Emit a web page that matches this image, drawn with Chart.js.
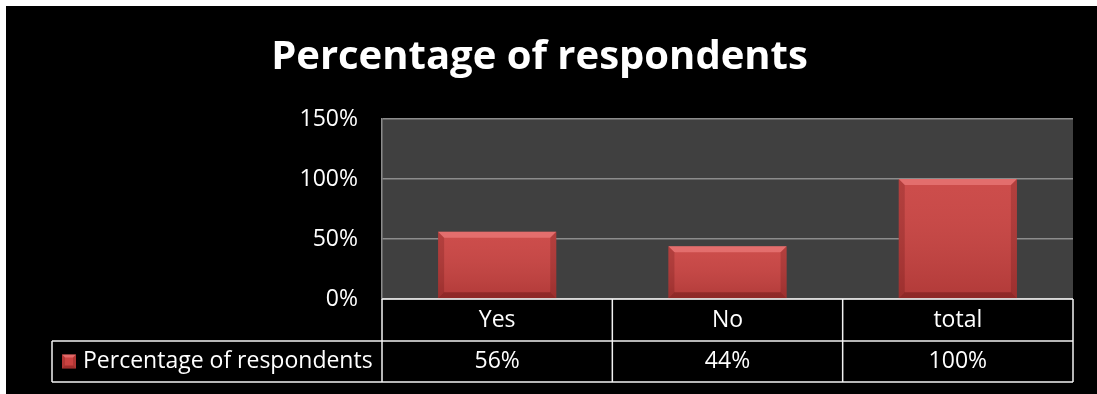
<!DOCTYPE html>
<html>
<head>
<meta charset="utf-8">
<script src="https://cdn.jsdelivr.net/npm/chart.js@4"></script>
<style>
  html, body { margin: 0; padding: 0; background: #fff; }
  #wrap { position: absolute; left: 6px; top: 6px; width: 1091px; height: 388px; background: #000; }
</style>
</head>
<body>
<div id="wrap"><canvas id="chart" width="1091" height="388"></canvas></div>
<script>
const titleText = 'Percentage of respondents';
const categories = ['Yes', 'No', 'total'];
const seriesName = 'Percentage of respondents';
const values = [56, 44, 100];
const valueLabels = ['56%', '44%', '100%'];
const yMax = 150;
const yStep = 50;

const FONT = '"Open Sans", Lato, sans-serif';
const barColor = '#ca4240';

// dark grey plot background
const plotBg = {
    id: 'plotBg',
    beforeDraw(chart) {
        const a = chart.chartArea;
        const ctx = chart.ctx;
        ctx.save();
        ctx.fillStyle = '#404040';
        ctx.fillRect(a.left, a.top, a.right - a.left, a.bottom - a.top);
        ctx.restore();
    }
};

// bevel look on the bars
function bevel(ctx, l, t, r, b, s) {
    ctx.fillStyle = 'rgba(255,150,150,0.45)';
    ctx.beginPath();
    ctx.moveTo(l, t); ctx.lineTo(r, t); ctx.lineTo(r - s, t + s); ctx.lineTo(l + s, t + s);
    ctx.closePath(); ctx.fill();
    ctx.fillStyle = 'rgba(60,0,0,0.18)';
    ctx.beginPath();
    ctx.moveTo(l, t); ctx.lineTo(l + s, t + s); ctx.lineTo(l + s, b - s); ctx.lineTo(l, b);
    ctx.closePath(); ctx.fill();
    ctx.beginPath();
    ctx.moveTo(r, t); ctx.lineTo(r - s, t + s); ctx.lineTo(r - s, b - s); ctx.lineTo(r, b);
    ctx.closePath(); ctx.fill();
    ctx.fillStyle = 'rgba(60,0,0,0.3)';
    ctx.beginPath();
    ctx.moveTo(l, b); ctx.lineTo(l + s, b - s); ctx.lineTo(r - s, b - s); ctx.lineTo(r, b);
    ctx.closePath(); ctx.fill();
}

const barBevel = {
    id: 'barBevel',
    afterDatasetsDraw(chart) {
        const ctx = chart.ctx;
        ctx.save();
        chart.getDatasetMeta(0).data.forEach(bar => {
            const l = bar.x - bar.width / 2, r = bar.x + bar.width / 2;
            const t = bar.y, b = bar.base;
            const g = ctx.createLinearGradient(0, t, 0, b);
            g.addColorStop(0, 'rgba(255,255,255,0.06)');
            g.addColorStop(1, 'rgba(0,0,0,0.12)');
            ctx.fillStyle = g;
            ctx.fillRect(l, t, r - l, b - t);
            bevel(ctx, l, t, r, b, 6);
        });
        ctx.restore();
    }
};

// data table under the plot (categories + values + legend key)
const dataTable = {
    id: 'dataTable',
    afterDraw(chart) {
        const ctx = chart.ctx;
        const xs = chart.scales.x;
        const a = chart.chartArea;
        const half = (a.right - a.left) / categories.length / 2;
        const row1 = a.bottom, row2 = a.bottom + 42, row3 = a.bottom + 83;
        const legendLeft = 46;

        ctx.save();
        ctx.strokeStyle = '#f2f2f2';
        ctx.lineWidth = 1.5;
        ctx.beginPath();
        ctx.moveTo(a.left, row1); ctx.lineTo(a.right, row1);
        ctx.moveTo(legendLeft, row2); ctx.lineTo(a.right, row2);
        ctx.moveTo(legendLeft, row3); ctx.lineTo(a.right, row3);
        ctx.moveTo(legendLeft, row2); ctx.lineTo(legendLeft, row3);
        for (let i = 0; i < categories.length; i++) {
            const x0 = xs.getPixelForValue(i) - half;
            ctx.moveTo(x0, row1); ctx.lineTo(x0, row3);
        }
        ctx.moveTo(a.right, row1); ctx.lineTo(a.right, row3);
        ctx.stroke();

        ctx.fillStyle = '#fff';
        ctx.font = '23px ' + FONT;
        ctx.textAlign = 'center';
        ctx.textBaseline = 'middle';
        categories.forEach((c, i) => {
            const cx = xs.getPixelForValue(i);
            ctx.fillText(c, cx, (row1 + row2) / 2);
            ctx.fillText(valueLabels[i], cx, (row2 + row3) / 2);
        });

        // legend key
        const ky = (row2 + row3) / 2;
        ctx.fillStyle = barColor;
        ctx.fillRect(56, ky - 7, 14, 14);
        bevel(ctx, 56, ky - 7, 70, ky + 7, 3);
        ctx.fillStyle = '#fff';
        ctx.textAlign = 'left';
        ctx.fillText(seriesName, 77, ky);
        ctx.restore();
    }
};

new Chart(document.getElementById('chart'), {
    type: 'bar',
    data: {
        labels: categories,
        datasets: [{
            label: seriesName,
            data: values,
            backgroundColor: barColor,
            borderWidth: 0,
            barPercentage: 0.513,
            categoryPercentage: 1.0
        }]
    },
    options: {
        responsive: false,
        animation: false,
        layout: { padding: { left: 0, right: 24, top: 0, bottom: 95 } },
        plugins: {
            legend: { display: false },
            tooltip: { enabled: false },
            title: {
                display: true,
                text: titleText,
                color: '#fff',
                font: { family: FONT, size: 40, weight: 'bold' },
                padding: { top: 28, bottom: 37 }
            }
        },
        scales: {
            x: { display: false },
            y: {
                min: 0,
                max: yMax,
                afterFit(scale) { scale.width = 376; },
                ticks: {
                    stepSize: yStep,
                    color: '#fff',
                    padding: 24,
                    font: { family: FONT, size: 23 },
                    callback: v => v + '%'
                },
                grid: { color: '#8c8c8c', lineWidth: 1.5, drawTicks: false },
                border: { color: '#8c8c8c', width: 1.5 }
            }
        }
    },
    plugins: [plotBg, barBevel, dataTable]
});
</script>
</body>
</html>
